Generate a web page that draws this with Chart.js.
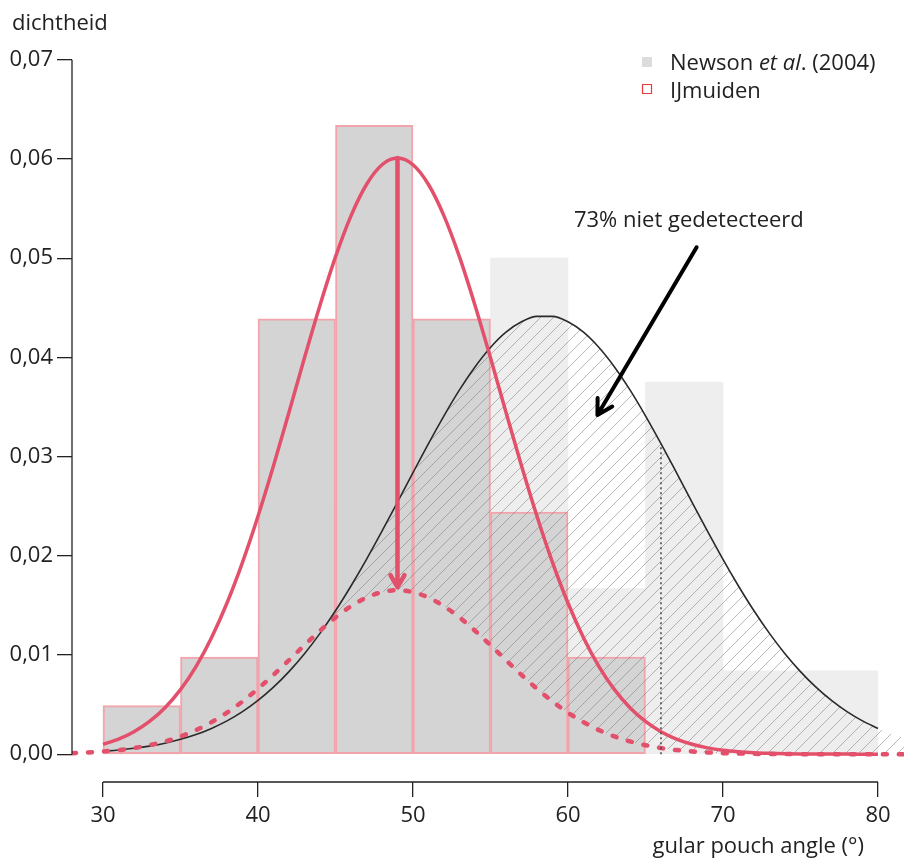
<!DOCTYPE html>
<html>
<head>
<meta charset="utf-8">
<script src="https://cdn.jsdelivr.net/npm/chart.js@4.4.0/dist/chart.umd.min.js"></script>
<style>
  html, body { margin: 0; padding: 0; background: #fff; }
</style>
</head>
<body>
<canvas id="myChart" width="904" height="861"></canvas>
<script>
// histogram bins (5 degrees wide), value = density
var binCenters = [32.5, 37.5, 42.5, 47.5, 52.5, 57.5, 62.5, 67.5, 72.5, 77.5];
var newsonDensity = [0, 0.0042, 0.0125, 0.0250, 0.0375, 0.0500, 0.0167, 0.0375, 0.0084, 0.0084];
var ijmuidenDensity = [0.0049, 0.0098, 0.0439, 0.0634, 0.0439, 0.0244, 0.0098];

// fitted curves
var angle = [28, 29, 30, 31, 32, 33, 34, 35, 36, 37, 38, 39, 40, 41, 42, 43, 44, 45, 46, 47, 48, 49,
  50, 51, 52, 53, 54, 55, 56, 57, 58, 59, 60, 61, 62, 63, 64, 65, 66, 67, 68, 69, 70, 71, 72, 73, 74,
  75, 76, 77, 78, 79, 80, 81, 82];
var ijmuidenFit = [0.00040, 0.00064, 0.00100, 0.00152, 0.00227, 0.00330, 0.00469, 0.00651, 0.00884,
  0.01174, 0.01524, 0.01934, 0.02399, 0.02908, 0.03448, 0.03996, 0.04526, 0.05013, 0.05427, 0.05743,
  0.05942, 0.06010, 0.05942, 0.05743, 0.05427, 0.05013, 0.04526, 0.03996, 0.03448, 0.02908, 0.02399,
  0.01934, 0.01524, 0.01174, 0.00884, 0.00651, 0.00469, 0.00330, 0.00227, 0.00152, 0.00100, 0.00064,
  0.00040, 0.00025, 0.00015, 0.00009, 0.00005, 0.00003, 0.00002, 0.00001, 0.00001, 0, 0, 0, 0];
var detectedFit = [0.00011, 0.00018, 0.00028, 0.00042, 0.00062, 0.00091, 0.00129, 0.00179, 0.00243,
  0.00323, 0.00419, 0.00532, 0.00660, 0.00800, 0.00948, 0.01099, 0.01245, 0.01379, 0.01492, 0.01579,
  0.01634, 0.01653, 0.01634, 0.01579, 0.01492, 0.01379, 0.01245, 0.01099, 0.00948, 0.00800, 0.00660,
  0.00532, 0.00419, 0.00323, 0.00243, 0.00179, 0.00129, 0.00091, 0.00062, 0.00042, 0.00028, 0.00018,
  0.00011, 0.00007, 0.00004, 0.00002, 0.00001, 0.00001, 0, 0, 0, 0, 0, 0, 0];
var newsonFit = [0.00015, 0.00021, 0.00030, 0.00043, 0.00060, 0.00082, 0.00111, 0.00150, 0.00198,
  0.00260, 0.00336, 0.00429, 0.00542, 0.00676, 0.00833, 0.01013, 0.01218, 0.01446, 0.01696, 0.01964,
  0.02248, 0.02541, 0.02838, 0.03131, 0.03411, 0.03672, 0.03904, 0.04100, 0.04254, 0.04359, 0.04413,
  0.04413, 0.04359, 0.04254, 0.04100, 0.03904, 0.03672, 0.03411, 0.03131, 0.02838, 0.02541, 0.02248,
  0.01964, 0.01696, 0.01446, 0.01218, 0.01013, 0.00833, 0.00676, 0.00542, 0.00429, 0.00336, 0.00260,
  0.00198, 0.00150];
var fitRange = [30, 80];
var hatchStart = [44.3, 0.0128]; // where black curve crosses the dashed one

var xTicks = [30, 40, 50, 60, 70, 80];
var yTicks = [0, 0.01, 0.02, 0.03, 0.04, 0.05, 0.06, 0.07];

// annotations (data coordinates)
var peakAngle = 49;
var cutoffAngle = 66;
var noteArrow = [[68.3, 0.0511], [61.9, 0.0342]];
var notePos = [67.8, 0.0538];
var noteText = '73% niet gedetecteerd';

var FONT = "'Open Sans', sans-serif";
var RED = '#e2506b';
var TEXT = '#222';

function points(xs, ys, lo, hi) {
  var out = [];
  for (var i = 0; i < xs.length; i++) {
    if (xs[i] >= lo && xs[i] <= hi && ys[i] !== null) out.push({ x: xs[i], y: ys[i] });
  }
  return out;
}

function hatchPattern(ctx) {
  var s = 13;
  var c = document.createElement('canvas');
  c.width = s; c.height = s;
  var g = c.getContext('2d');
  g.strokeStyle = 'rgba(115,115,115,0.5)';
  g.lineWidth = 1;
  g.beginPath();
  g.moveTo(-1, s + 1); g.lineTo(s + 1, -1);
  g.moveTo(-2, 2); g.lineTo(2, -2);
  g.moveTo(s - 2, s + 2); g.lineTo(s + 2, s - 2);
  g.stroke();
  return ctx.createPattern(c, 'repeat');
}

function arrow(ctx, x0, y0, x1, y1, len, color, width) {
  var a = Math.atan2(y1 - y0, x1 - x0);
  ctx.strokeStyle = color;
  ctx.lineWidth = width;
  ctx.lineCap = 'round';
  ctx.lineJoin = 'round';
  ctx.beginPath();
  ctx.moveTo(x0, y0);
  ctx.lineTo(x1, y1);
  ctx.moveTo(x1 - len * Math.cos(a - Math.PI / 6), y1 - len * Math.sin(a - Math.PI / 6));
  ctx.lineTo(x1, y1);
  ctx.lineTo(x1 - len * Math.cos(a + Math.PI / 6), y1 - len * Math.sin(a + Math.PI / 6));
  ctx.stroke();
}

var extras = {
  id: 'extras',
  afterDatasetsDraw: function (chart) {
    var ctx = chart.ctx, x = chart.scales.x, y = chart.scales.y;
    ctx.save();

    // axes (R style, only over the tick range)
    ctx.strokeStyle = TEXT;
    ctx.lineWidth = 1.3;
    ctx.beginPath();
    ctx.moveTo(x.getPixelForValue(xTicks[0]), x.top);
    ctx.lineTo(x.getPixelForValue(xTicks[xTicks.length - 1]), x.top);
    ctx.moveTo(y.right, y.getPixelForValue(yTicks[0]));
    ctx.lineTo(y.right, y.getPixelForValue(yTicks[yTicks.length - 1]));
    ctx.stroke();

    // dotted cutoff
    var ci = angle.indexOf(cutoffAngle);
    ctx.setLineDash([2, 3]);
    ctx.lineWidth = 1.5;
    ctx.strokeStyle = '#444';
    ctx.beginPath();
    ctx.moveTo(x.getPixelForValue(cutoffAngle), y.getPixelForValue(0));
    ctx.lineTo(x.getPixelForValue(cutoffAngle), y.getPixelForValue(newsonFit[ci]));
    ctx.stroke();
    ctx.setLineDash([]);

    // red arrow from fitted peak down to detected peak
    var pi = angle.indexOf(peakAngle);
    var px = x.getPixelForValue(peakAngle);
    arrow(ctx, px, y.getPixelForValue(ijmuidenFit[pi]), px, y.getPixelForValue(detectedFit[pi]) - 3, 14, RED, 4.5);

    // black arrow with note
    arrow(ctx, x.getPixelForValue(noteArrow[0][0]), y.getPixelForValue(noteArrow[0][1]),
      x.getPixelForValue(noteArrow[1][0]), y.getPixelForValue(noteArrow[1][1]), 17, '#000', 4);
    ctx.fillStyle = TEXT;
    ctx.font = '22px ' + FONT;
    ctx.textAlign = 'center';
    ctx.textBaseline = 'middle';
    ctx.fillText(noteText, x.getPixelForValue(notePos[0]), y.getPixelForValue(notePos[1]));

    // axis titles
    ctx.textBaseline = 'alphabetic';
    ctx.textAlign = 'left';
    ctx.fillText('dichtheid', 12, 30);
    ctx.textAlign = 'right';
    ctx.fillText('gular pouch angle (\u00b0)', 864, 853);

    // legend
    ctx.textAlign = 'left';
    ctx.fillStyle = '#dcdcdc';
    ctx.fillRect(642, 57, 10, 10);
    ctx.strokeStyle = '#e83a3a';
    ctx.lineWidth = 1.2;
    ctx.strokeRect(642.5, 84.5, 9, 9);
    ctx.fillStyle = TEXT;
    var tx = 670;
    ctx.font = '22px ' + FONT;
    ctx.fillText('Newson ', tx, 70);
    tx += ctx.measureText('Newson ').width;
    ctx.font = 'italic 22px ' + FONT;
    ctx.fillText('et al', tx, 70);
    tx += ctx.measureText('et al').width;
    ctx.font = '22px ' + FONT;
    ctx.fillText('. (2004)', tx, 70);
    ctx.fillText('IJmuiden', 670, 98);

    ctx.restore();
  }
};

var canvas = document.getElementById('myChart');
var ctx = canvas.getContext('2d');

var newsonBars = binCenters.map(function (c, i) { return { x: c, y: newsonDensity[i] }; });
var ijmuidenBars = ijmuidenDensity.map(function (v, i) { return { x: binCenters[i], y: v }; });
var hatchTop = [{ x: hatchStart[0], y: hatchStart[1] }].concat(points(angle, newsonFit, 45, 82));

var myChart = new Chart(ctx, {
  type: 'line',
  data: {
    datasets: [
      { type: 'bar', label: 'Newson et al. (2004)', data: newsonBars, backgroundColor: '#eeeeee',
        borderWidth: 0, grouped: false, barPercentage: 1, categoryPercentage: 1, order: 10 },
      { type: 'bar', label: 'IJmuiden', data: ijmuidenBars, backgroundColor: '#d4d4d4',
        borderColor: '#f2a4ac', borderWidth: 2, borderSkipped: false, grouped: false,
        barPercentage: 1, categoryPercentage: 1, order: 9 },
      { label: 'detected', data: points(angle, detectedFit, 28, 82), borderColor: RED,
        borderWidth: 4.5, borderDash: [4, 12], borderCapStyle: 'round', pointRadius: 0,
        cubicInterpolationMode: 'monotone', fill: false, order: 6 },
      { label: 'hatch', data: hatchTop, borderWidth: 0, pointRadius: 0, borderColor: 'rgba(0,0,0,0)',
        backgroundColor: hatchPattern(ctx), cubicInterpolationMode: 'monotone', fill: 2, order: 8 },
      { label: 'Newson fit', data: points(angle, newsonFit, fitRange[0], fitRange[1]), borderColor: '#2a2a2a',
        borderWidth: 1.6, pointRadius: 0, cubicInterpolationMode: 'monotone', fill: false, order: 7 },
      { label: 'IJmuiden fit', data: points(angle, ijmuidenFit, fitRange[0], fitRange[1]), borderColor: RED,
        borderWidth: 3.5, pointRadius: 0, cubicInterpolationMode: 'monotone', fill: false, order: 5 }
    ]
  },
  options: {
    responsive: false,
    animation: false,
    events: [],
    layout: { padding: { top: 32, left: 0, right: 0, bottom: 0 } },
    plugins: { legend: { display: false }, tooltip: { enabled: false } },
    scales: {
      x: {
        type: 'linear', min: 28, max: 81.68, offset: false,
        afterBuildTicks: function (s) { s.ticks = xTicks.map(function (v) { return { value: v }; }); },
        afterFit: function (s) { s.height = 79; },
        grid: { offset: false, drawOnChartArea: false, drawTicks: true, tickLength: 15, color: TEXT, lineWidth: 1.3 },
        border: { display: false },
        ticks: { font: { family: FONT, size: 22 }, color: TEXT, padding: 6, maxRotation: 0, autoSkip: false }
      },
      y: {
        type: 'linear', min: -0.0028, max: 0.0728,
        afterBuildTicks: function (s) { s.ticks = yTicks.map(function (v) { return { value: v }; }); },
        afterFit: function (s) { s.width = 72; },
        grid: { drawOnChartArea: false, drawTicks: true, tickLength: 15, color: TEXT, lineWidth: 1.3 },
        border: { display: false },
        ticks: { font: { family: FONT, size: 22 }, color: TEXT, padding: 4,
          callback: function (v) { return v.toFixed(2).replace('.', ','); } }
      }
    }
  },
  plugins: [extras]
});
</script>
</body>
</html>
